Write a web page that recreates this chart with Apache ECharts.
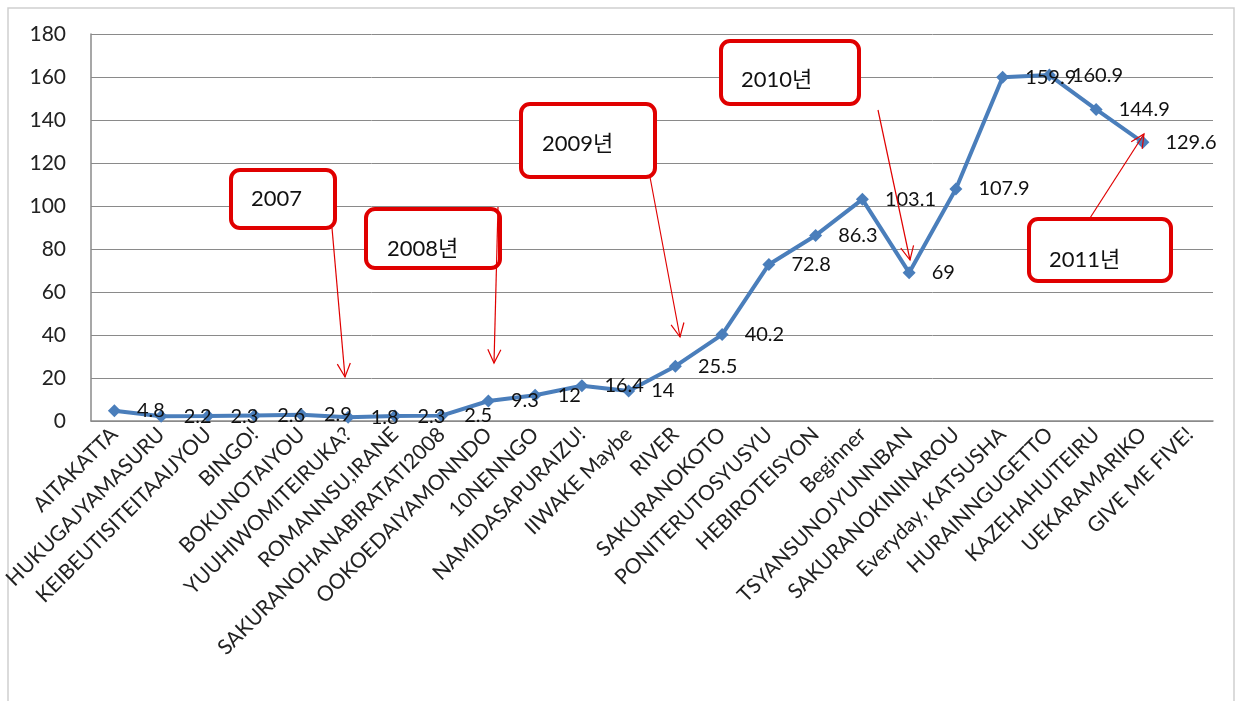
<!DOCTYPE html>
<html><head><meta charset="utf-8">
<script src="https://cdn.jsdelivr.net/npm/echarts@6/dist/echarts.min.js"></script>
<style>html,body{margin:0;padding:0;background:#fff}#c{width:1243px;height:701px}</style>
</head><body><div id="c"></div>
<script>
var categories = ['AITAKATTA','HUKUGAJYAMASURU','KEIBEUTISITEITAAIJYOU','BINGO!','BOKUNOTAIYOU','YUUHIWOMITEIRUKA?','ROMANNSU,IRANE','SAKURANOHANABIRATATI2008','OOKOEDAIYAMONNDO','10NENNGO','NAMIDASAPURAIZU!','IIWAKE Maybe','RIVER','SAKURANOKOTO','PONITERUTOSYUSYU','HEBIROTEISYON','Beginner','TSYANSUNOJYUNNBAN','SAKURANOKININAROU','Everyday, KATSUSHA','HURAINNGUGETTO','KAZEHAHUITEIRU','UEKARAMARIKO','GIVE ME FIVE!'];
var values = [4.8,2.2,2.3,2.6,2.9,1.8,2.3,2.5,9.3,12,16.4,14,25.5,40.2,72.8,86.3,103.1,69,107.9,159.9,160.9,144.9,129.6,null];
var yTicks = [0,20,40,60,80,100,120,140,160,180];
var notes = ['2007','2008년','2009년','2010년','2011년'];

var FONT = 'Lato, "Noto Sans CJK KR", sans-serif';
var RED = '#e00000';

function box(x, y, w, h, text, tx, ty) {
  return [{
    type: 'rect', shape: {x: x, y: y, width: w, height: h, r: 9},
    style: {fill: '#fff', stroke: RED, lineWidth: 4}, z: 100
  }, {
    type: 'text', x: tx, y: ty,
    style: {text: text, fill: '#111', font: '22px ' + FONT, textVerticalAlign: 'middle'}, z: 101
  }];
}
function arrow(x1, y1, x2, y2) {
  var a = Math.atan2(y2 - y1, x2 - x1), L = 15, s = 0.45;
  var p1 = [x2 - L * Math.cos(a - s), y2 - L * Math.sin(a - s)];
  var p2 = [x2 - L * Math.cos(a + s), y2 - L * Math.sin(a + s)];
  return [{
    type: 'line', shape: {x1: x1, y1: y1, x2: x2, y2: y2},
    style: {stroke: RED, lineWidth: 1.2}, z: 102
  }, {
    type: 'polyline', shape: {points: [p1, [x2, y2], p2]},
    style: {stroke: RED, lineWidth: 1.2, fill: null}, z: 102
  }];
}

var graphics = [{
  type: 'rect', shape: {x: 8, y: 8, width: 1226, height: 720},
  style: {fill: null, stroke: '#cfcfcf', lineWidth: 1.5}, z: -1
}];
graphics = graphics
  .concat(box(231, 170, 104, 58, notes[0], 251, 199))
  .concat(box(366, 209, 134, 59, notes[1], 387, 249))
  .concat(box(521, 104, 134, 73, notes[2], 542, 144))
  .concat(box(721, 41, 138, 63, notes[3], 741, 80))
  .concat(box(1029, 219, 142, 62, notes[4], 1049, 260))
  .concat(arrow(332, 228, 345, 377))
  .concat(arrow(498, 207, 494, 363))
  .concat(arrow(650, 177, 680, 337))
  .concat(arrow(878, 110, 910, 260))
  .concat(arrow(1090, 218, 1144, 134));

var chart = echarts.init(document.getElementById('c'));
chart.setOption({
  animation: false,
  backgroundColor: '#fff',
  grid: {left: 91, right: 30, top: 34, bottom: 280, containLabel: false},
  xAxis: {
    type: 'category', data: categories, boundaryGap: true,
    axisLine: {lineStyle: {color: '#8a8a8a', width: 1.5}},
    axisTick: {show: false},
    axisLabel: {rotate: 45, interval: 0, margin: 10, color: '#222', fontSize: 21, fontFamily: FONT}
  },
  yAxis: {
    type: 'value', min: 0, max: 180, interval: 20,
    axisLine: {show: true, lineStyle: {color: '#8a8a8a', width: 1.5}},
    axisTick: {show: false},
    splitLine: {lineStyle: {color: '#8a8a8a', width: 1}},
    axisLabel: {color: '#222', fontSize: 21, fontFamily: FONT, margin: 25,
      formatter: function (v) { return yTicks.indexOf(v) >= 0 ? String(v) : ''; }}
  },
  series: [{
    type: 'line', data: values, connectNulls: false,
    symbol: 'diamond', symbolSize: 13,
    lineStyle: {color: '#4a7ebb', width: 4},
    itemStyle: {color: '#4a7ebb'},
    label: {show: true, position: 'right', distance: 16, color: '#111', fontSize: 20, fontFamily: FONT},
    z: 3
  }],
  graphic: graphics
});
</script></body></html>
